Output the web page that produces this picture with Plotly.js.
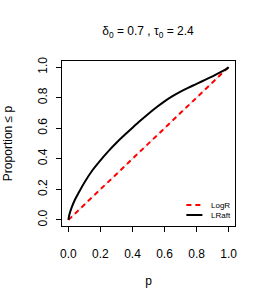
<!DOCTYPE html>
<html>
<head>
<meta charset="utf-8">
<script src="https://cdn.plot.ly/plotly-3.0.1.min.js"></script>
<style>html,body{margin:0;padding:0;background:#fff;}#chart{width:266px;height:304px;}</style>
</head>
<body>
<div id="chart"></div>
<script>
// Data
var pValues = [0, 0.005, 0.02, 0.04, 0.06, 0.1, 0.15, 0.2, 0.25, 0.3, 0.35, 0.4, 0.45, 0.5, 0.55, 0.6, 0.65, 0.7, 0.75, 0.8, 0.85, 0.9, 0.95, 0.99, 1.0];
var lraftValues = [0, 0.03, 0.08, 0.13, 0.17, 0.245, 0.325, 0.39, 0.45, 0.505, 0.555, 0.603, 0.65, 0.695, 0.737, 0.776, 0.81, 0.84, 0.866, 0.89, 0.915, 0.94, 0.967, 0.99, 1.0];
var logrP = [0, 1];
var logrValues = [0, 1];
var refLine = [0, 1];
var tickVals = [0, 0.2, 0.4, 0.6, 0.8, 1.0];
var tickText = ["0.0", "0.2", "0.4", "0.6", "0.8", "1.0"];
var seriesNames = ["LogR", "LRaft"];

var FONT = "Liberation Sans, Arial, Helvetica, sans-serif";

var traces = [
  {x: refLine, y: refLine, mode: "lines", line: {color: "#d3d3d3", width: 1}, hoverinfo: "skip", showlegend: false},
  {x: logrP, y: logrValues, mode: "lines", name: seriesNames[0], line: {color: "#ff0000", width: 2, dash: "5px,4px"}, showlegend: false},
  {x: pValues, y: lraftValues, mode: "lines", name: seriesNames[1], line: {color: "#000000", width: 2, shape: "spline", smoothing: 1}, showlegend: false}
];

var axisCommon = {
  range: [-0.04, 1.04],
  tickvals: tickVals,
  ticktext: tickText,
  ticks: "outside",
  ticklen: 5,
  tickwidth: 1,
  tickcolor: "#000",
  showline: true,
  linecolor: "#000",
  linewidth: 1,
  mirror: true,
  showgrid: false,
  zeroline: false,
  tickfont: {family: FONT, size: 12, color: "#000"},
  fixedrange: true
};

var layout = {
  width: 266,
  height: 304,
  margin: {l: 62, r: 31, t: 61, b: 78},
  paper_bgcolor: "#fff",
  plot_bgcolor: "#fff",
  font: {family: FONT, size: 12, color: "#000"},
  title: {text: "δ<sub>0</sub> = 0.7 , τ<sub>0</sub> = 2.4", x: 148/266, xanchor: "center", xref: "container", y: 1 - 31/304, yref: "container", yanchor: "middle", font: {family: FONT, size: 12, color: "#000"}},
  xaxis: Object.assign({}, axisCommon, {title: {text: "p", font: {family: FONT, size: 12, color: "#000"}, standoff: 16}, ticklabelstandoff: 12}),
  yaxis: Object.assign({}, axisCommon, {tickangle: -90, title: {text: "Proportion ≤ p", font: {family: FONT, size: 12, color: "#000"}, standoff: 21}, ticklabelstandoff: 4}),
  shapes: [
    {type: "line", xref: "paper", yref: "paper", x0: (186-62)/172.5, x1: (202-62)/172.5, y0: (226-205)/165, y1: (226-205)/165, line: {color: "#ff0000", width: 2, dash: "5px,4px"}},
    {type: "line", xref: "paper", yref: "paper", x0: (186-62)/172.5, x1: (202-62)/172.5, y0: (226-215)/165, y1: (226-215)/165, line: {color: "#000", width: 2}}
  ],
  annotations: [
    {text: seriesNames[0], xref: "paper", yref: "paper", x: (209-62)/172.5, y: (226-205)/165, xanchor: "left", yanchor: "middle", showarrow: false, font: {family: FONT, size: 8, color: "#000"}},
    {text: seriesNames[1], xref: "paper", yref: "paper", x: (209-62)/172.5, y: (226-215)/165, xanchor: "left", yanchor: "middle", showarrow: false, font: {family: FONT, size: 8, color: "#000"}}
  ]
};

Plotly.newPlot("chart", traces, layout, {staticPlot: true, displayModeBar: false});
</script>
</body>
</html>
